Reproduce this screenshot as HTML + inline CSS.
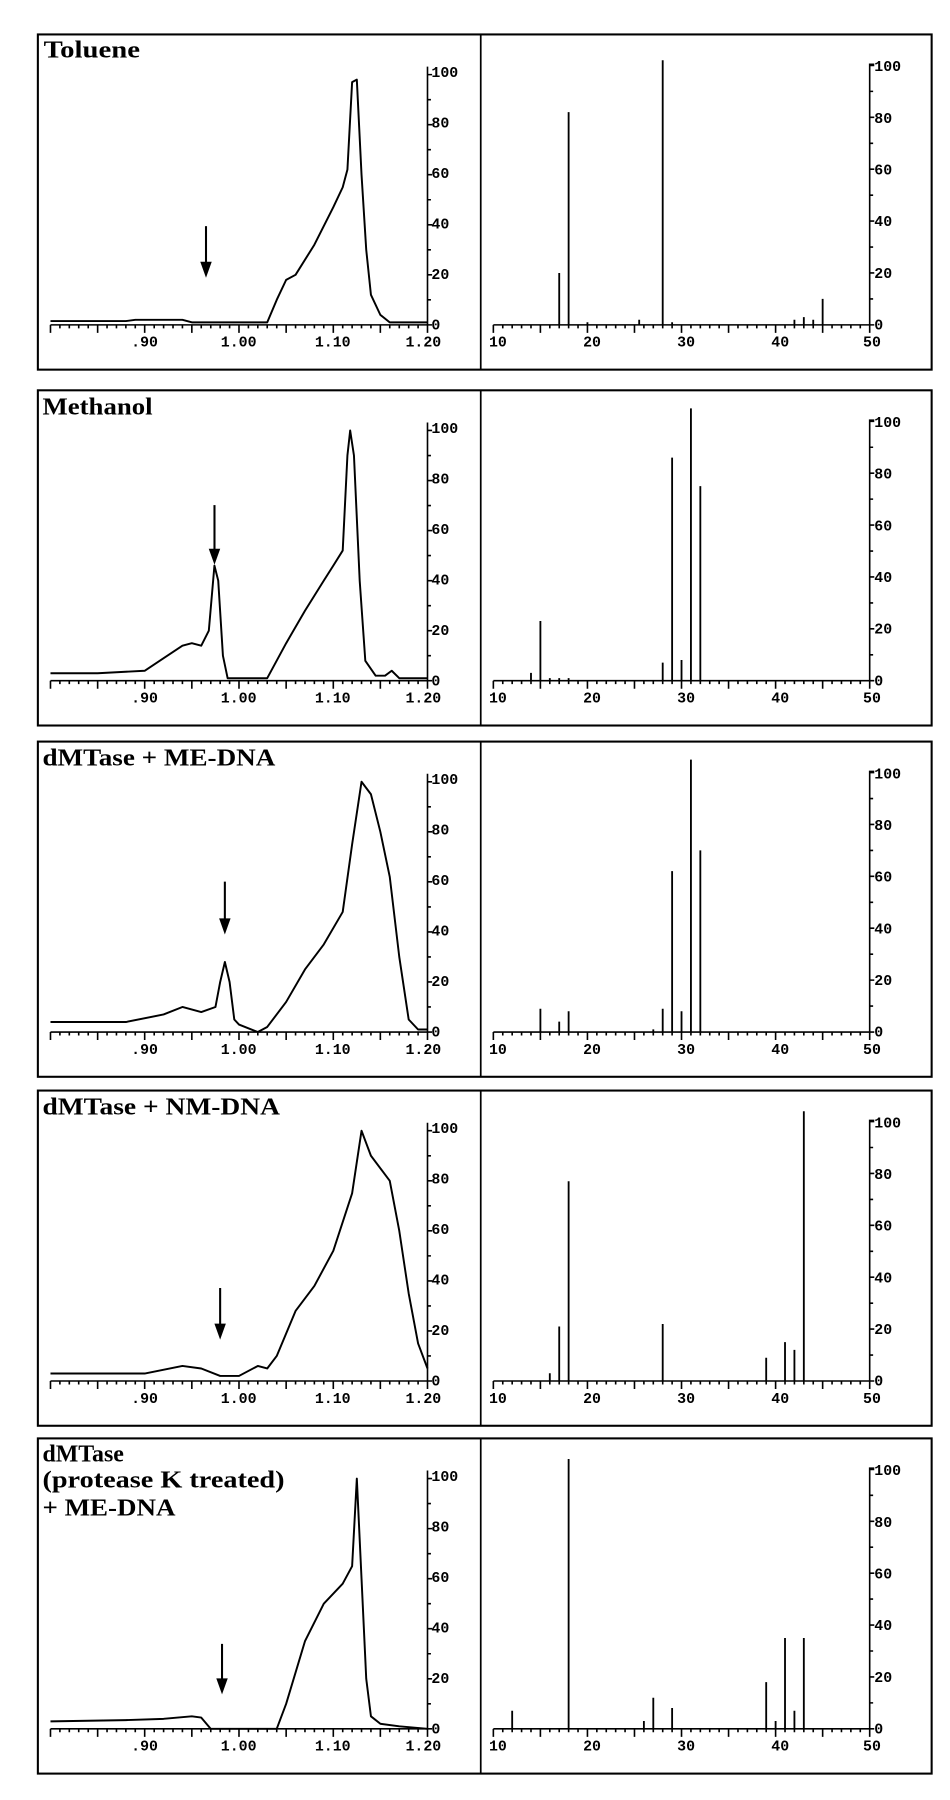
<!DOCTYPE html>
<html><head><meta charset="utf-8"><style>
html,body{margin:0;padding:0;background:#fff;}
svg{display:block;}
.t{font-family:"Liberation Serif",serif;font-weight:bold;font-size:21px;fill:#000;}
.n{font-family:"Liberation Mono",monospace;font-size:13px;font-weight:bold;fill:#000;}
</style></head><body>
<svg id="s" width="950" height="1800" viewBox="0 0 828 1568" preserveAspectRatio="none" xmlns="http://www.w3.org/2000/svg">
<defs>
<g id="ax">
<rect x="33" y="0" width="779" height="292" fill="none" stroke="#000" stroke-width="1.8"/>
<line x1="419" y1="0" x2="419" y2="292" stroke="#000" stroke-width="1.5"/>
<g class="n" text-anchor="middle">
<text x="126" y="272">.90</text><text x="208" y="272">1.00</text><text x="290" y="272">1.10</text><text x="369" y="272">1.20</text>
<text x="434" y="272">10</text><text x="516" y="272">20</text><text x="598" y="272">30</text><text x="680" y="272">40</text><text x="760" y="272">50</text>
</g>
<g class="n">
<text x="376" y="257">0</text><text x="376" y="213">20</text><text x="376" y="169">40</text><text x="376" y="125">60</text><text x="376" y="81">80</text><text x="376" y="37">100</text>
<text x="762" y="257">0</text><text x="762" y="212">20</text><text x="762" y="167">40</text><text x="762" y="122">60</text><text x="762" y="77">80</text><text x="762" y="32">100</text>
</g>
<g id="tk" stroke="#000" stroke-width="1.4" fill="none"></g>
</g>
</defs>
<use href="#ax" transform="translate(0,30)"/>
<use href="#ax" transform="translate(0,340)"/>
<use href="#ax" transform="translate(0,646)"/>
<use href="#ax" transform="translate(0,950)"/>
<use href="#ax" transform="translate(0,1253)"/>
<text class="t" x="38" y="50" textLength="84" lengthAdjust="spacingAndGlyphs">Toluene</text>
<text class="t" x="37" y="361" textLength="96" lengthAdjust="spacingAndGlyphs">Methanol</text>
<text class="t" x="37" y="667" textLength="203" lengthAdjust="spacingAndGlyphs">dMTase  +  ME-DNA</text>
<text class="t" x="37" y="971" textLength="207" lengthAdjust="spacingAndGlyphs">dMTase  +  NM-DNA</text>
<text class="t" x="37" y="1273" textLength="71" lengthAdjust="spacingAndGlyphs">dMTase</text>
<text class="t" x="37" y="1296" textLength="211" lengthAdjust="spacingAndGlyphs">(protease  K  treated)</text>
<text class="t" x="37" y="1320" textLength="116" lengthAdjust="spacingAndGlyphs">+  ME-DNA</text>
<g id="data" stroke="#000" fill="none"></g>
</svg>
<script>
var NS="http://www.w3.org/2000/svg";
function el(p,n,a){var e=document.createElementNS(NS,n);for(var k in a)e.setAttribute(k,a[k]);p.appendChild(e);return e;}
var tk=document.getElementById('tk');
var d="";
var AY=253;
function lx(v){return 44+(v-0.8)*821.5;}
function rx(m){return 430+(m-10)*8.2;}
d+="M44 "+AY+"H372.6";
for(var i=0;i<=40;i++){var x=lx(0.8+i*0.01);var L=(i%5==0)?7:3;d+="M"+x.toFixed(1)+" "+AY+"v"+L;}
d+="M372.6 "+AY+"V28";
for(var i=0;i<=10;i++){var y=AY-i*10*2.18;var L=(i%2==0)?4:3;d+="M372.6 "+y.toFixed(1)+"h"+L;}
d+="M430 "+AY+"H758";
for(var i=0;i<=40;i++){var x=rx(10+i);var L=(i%5==0)?7:3;d+="M"+x.toFixed(1)+" "+AY+"v"+L;}
d+="M758 "+AY+"V26h4";
for(var i=0;i<=10;i++){var y=AY-i*10*2.26;var L=(i%2==0)?4:3;d+="M758 "+y.toFixed(1)+"h"+L;}
el(tk,'path',{d:d});
var tops=[30,340,646,950,1253];
var curves=[
[[0.8,1.5],[0.88,1.5],[0.89,2],[0.94,2],[0.95,1],[1.03,1],[1.04,10],[1.05,18],[1.06,20],[1.08,32],[1.1,47],[1.11,55],[1.115,62],[1.12,97],[1.125,98],[1.13,60],[1.135,30],[1.14,12],[1.15,4],[1.16,1],[1.2,1]],
[[0.8,3],[0.85,3],[0.9,4],[0.92,9],[0.94,14],[0.95,15],[0.96,14],[0.968,20],[0.974,46],[0.978,40],[0.983,10],[0.988,1],[1.03,1],[1.05,15],[1.07,28],[1.09,40],[1.1,46],[1.11,52],[1.115,90],[1.118,100],[1.122,90],[1.128,40],[1.134,8],[1.145,2],[1.155,2],[1.162,4],[1.17,1],[1.2,1]],
[[0.8,4],[0.88,4],[0.92,7],[0.94,10],[0.96,8],[0.975,10],[0.98,20],[0.985,28],[0.99,20],[0.995,5],[1.0,3],[1.02,0],[1.03,2],[1.05,12],[1.07,25],[1.09,35],[1.11,48],[1.12,75],[1.13,100],[1.14,95],[1.15,80],[1.16,62],[1.17,30],[1.18,5],[1.19,1],[1.2,1]],
[[0.8,3],[0.9,3],[0.94,6],[0.96,5],[0.98,2],[1.0,2],[1.02,6],[1.03,5],[1.04,10],[1.06,28],[1.08,38],[1.1,52],[1.12,75],[1.13,100],[1.14,90],[1.16,80],[1.17,60],[1.18,35],[1.19,15],[1.2,5]],
[[0.8,3],[0.88,3.5],[0.92,4],[0.95,5],[0.96,4.5],[0.97,0],[1.04,0],[1.05,10],[1.07,35],[1.09,50],[1.11,58],[1.12,65],[1.125,100],[1.13,60],[1.135,20],[1.14,5],[1.15,2],[1.17,1],[1.2,0]]
];
var arrows=[[0.965,167,210],[0.974,100,150],[0.985,122,166],[0.98,172,215],[0.982,179,221]];
var bars=[
[[17,20],[18,82],[20,1],[25.5,2],[28,102],[29,1],[42,2],[43,3],[44,2],[45,10]],
[[14,3],[15,23],[16,1],[17,1],[18,1],[28,7],[29,86],[30,8],[31,105],[32,75]],
[[15,9],[17,4],[18,8],[27,1],[28,9],[29,62],[30,8],[31,105],[32,70]],
[[16,3],[17,21],[18,77],[28,22],[39,9],[41,15],[42,12],[43,104]],
[[12,7],[18,104],[26,3],[27,12],[29,8],[39,18],[40,3],[41,35],[42,7],[43,35]]
];
var g=document.getElementById('data');
for(var p=0;p<5;p++){
 var T=tops[p]+AY;
 var c=curves[p],s="";
 for(var i=0;i<c.length;i++){s+=(i?"L":"M")+lx(c[i][0]).toFixed(1)+" "+(T-c[i][1]*2.18).toFixed(1);}
 el(g,'path',{d:s,'stroke-width':1.7,'stroke-linejoin':'round'});
 var a=arrows[p],ax=lx(a[0]);
 el(g,'line',{x1:ax,y1:tops[p]+a[1],x2:ax,y2:tops[p]+a[2]-10,'stroke-width':1.8});
 el(g,'path',{d:"M"+(ax-5)+" "+(tops[p]+a[2]-12)+"h10l-5 14z",fill:'#000',stroke:'none'});
 var b=bars[p],bs="";
 for(var i=0;i<b.length;i++){bs+="M"+rx(b[i][0]).toFixed(1)+" "+T+"V"+(T-b[i][1]*2.26).toFixed(1);}
 el(g,'path',{d:bs,'stroke-width':1.6});
}
</script>
</body></html>
